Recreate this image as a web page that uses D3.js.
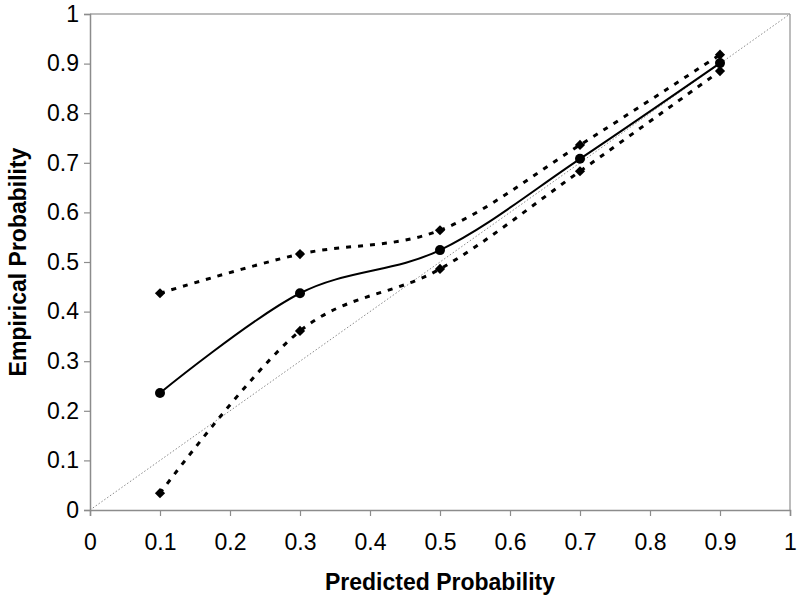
<!DOCTYPE html>
<html>
<head>
<meta charset="utf-8">
<script src="https://cdn.jsdelivr.net/npm/d3@7/dist/d3.min.js"></script>
<style>
  html, body { margin: 0; padding: 0; background: #fff; }
  svg { display: block; font-family: Arial, "Liberation Sans", sans-serif; }
</style>
</head>
<body>
<svg id="chart" width="800" height="600"></svg>
<script>
// ---- data ----
const predicted = [0.1, 0.3, 0.5, 0.7, 0.9];
const empirical = [0.236, 0.437, 0.524, 0.708, 0.901];
const upperBound = [0.437, 0.516, 0.564, 0.736, 0.918];
const lowerBound = [0.034, 0.361, 0.486, 0.683, 0.885];
const xTicks = [0, 0.1, 0.2, 0.3, 0.4, 0.5, 0.6, 0.7, 0.8, 0.9, 1];
const yTicks = [0, 0.1, 0.2, 0.3, 0.4, 0.5, 0.6, 0.7, 0.8, 0.9, 1];
const xTitle = "Predicted Probability";
const yTitle = "Empirical Probability";

// ---- layout ----
const svg = d3.select("#chart");
const pLeft = 90, pRight = 790, pTop = 14, pBottom = 510;
const x = d3.scaleLinear().domain([0, 1]).range([pLeft, pRight]);
const y = d3.scaleLinear().domain([0, 1]).range([pBottom, pTop]);

// plot border (top & right)
svg.append("line").attr("x1", pLeft).attr("x2", pRight).attr("y1", pTop).attr("y2", pTop)
  .attr("stroke", "#a6a6a6").attr("stroke-width", 1.5);
svg.append("line").attr("x1", pRight).attr("x2", pRight).attr("y1", pTop).attr("y2", pBottom)
  .attr("stroke", "#a6a6a6").attr("stroke-width", 1.5);

// axes
const fmt = d => d === 0 ? "0" : d === 1 ? "1" : d3.format(".1f")(d);
const gx = svg.append("g").attr("transform", `translate(0,${pBottom})`)
  .call(d3.axisBottom(x).tickValues(xTicks).tickFormat(fmt).tickSize(6).tickPadding(18));
const gy = svg.append("g").attr("transform", `translate(${pLeft},0)`)
  .call(d3.axisLeft(y).tickValues(yTicks).tickFormat(fmt).tickSize(6).tickPadding(5));
[gx, gy].forEach(g => {
  g.select(".domain").attr("stroke", "#8c8c8c").attr("stroke-width", 1.5);
  g.selectAll(".tick line").attr("stroke", "#8c8c8c").attr("stroke-width", 1.2);
  g.selectAll(".tick text").attr("fill", "#000").attr("font-size", 23)
    .attr("font-family", "Arial, 'Liberation Sans', sans-serif");
});

// diagonal reference
svg.append("line")
  .attr("x1", x(0)).attr("y1", y(0)).attr("x2", x(1)).attr("y2", y(1))
  .attr("stroke", "#8a8a8a").attr("stroke-width", 1).attr("stroke-dasharray", "1.5,2");

const line = d3.line().x((d, i) => x(predicted[i])).y(d => y(d)).curve(d3.curveCatmullRom.alpha(0));

// bounds (dashed)
[upperBound, lowerBound].forEach(arr => {
  svg.append("path").datum(arr).attr("d", line)
    .attr("fill", "none").attr("stroke", "#000").attr("stroke-width", 3)
    .attr("stroke-dasharray", "5,7");
});
// central
svg.append("path").datum(empirical).attr("d", line)
  .attr("fill", "none").attr("stroke", "#000").attr("stroke-width", 2);

// markers
const diamond = d3.symbol().type(d3.symbolSquare).size(52);
[upperBound, lowerBound].forEach(arr => {
  svg.append("g").selectAll("path").data(arr).join("path")
    .attr("d", diamond)
    .attr("transform", (d, i) => `translate(${x(predicted[i])},${y(d)}) rotate(45)`)
    .attr("fill", "#000");
});
svg.append("g").selectAll("circle").data(empirical).join("circle")
  .attr("cx", (d, i) => x(predicted[i])).attr("cy", d => y(d)).attr("r", 5)
  .attr("fill", "#000");

// titles
svg.append("text").attr("x", (pLeft + pRight) / 2).attr("y", 590)
  .attr("text-anchor", "middle").attr("font-size", 23).attr("font-weight", "bold")
  .text(xTitle);
svg.append("text").attr("transform", `translate(26,${(pTop + pBottom) / 2}) rotate(-90)`)
  .attr("text-anchor", "middle").attr("font-size", 23).attr("font-weight", "bold")
  .text(yTitle);
</script>
</body>
</html>
